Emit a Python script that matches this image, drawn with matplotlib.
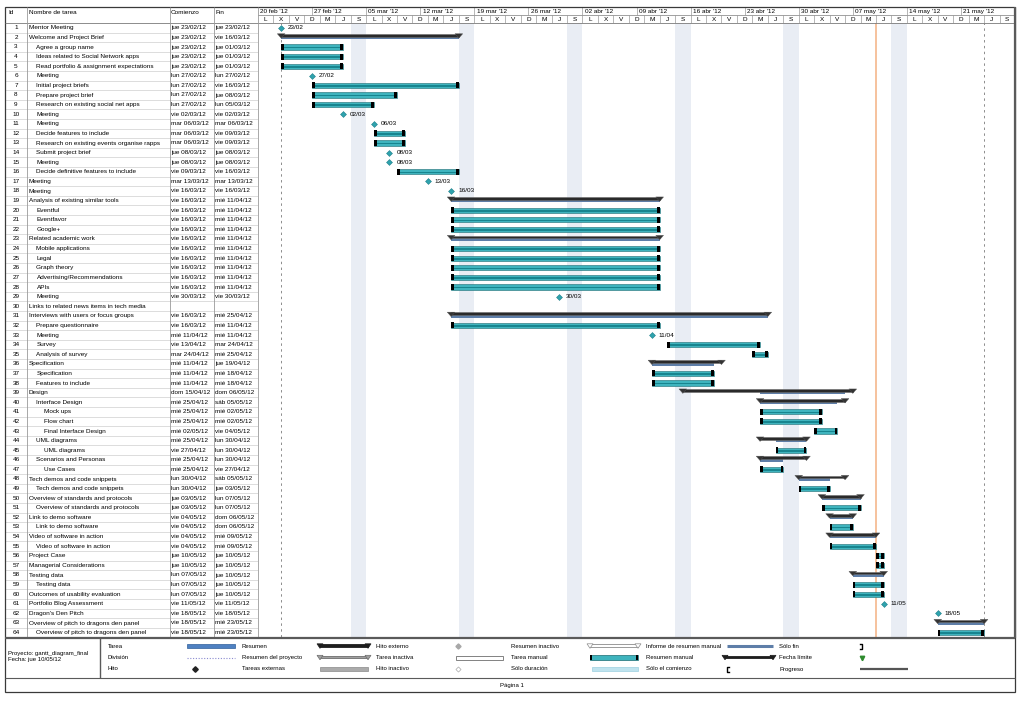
import matplotlib
matplotlib.use("Agg")
import matplotlib.pyplot as plt
import matplotlib.dates as mdates
from matplotlib.patches import Rectangle, Polygon
from datetime import datetime, timedelta

plt.rcParams['font.family'] = ['Liberation Sans', 'DejaVu Sans']

# ---------------- data ----------------
names = [
    "Mentor Meeting", "Welcome and Project Brief", "Agree a group name",
    "Ideas related to Social Network apps", "Read portfolio & assignment expectations",
    "Meeting", "Initial project briefs", "Prepare project brief",
    "Research on existing social net apps", "Meeting", "Meeting",
    "Decide features to include", "Research on existing events organise rapps",
    "Submit project brief", "Meeting", "Decide definitive features to include",
    "Meeting", "Meeting", "Analysis of existing similar tools", "Eventful",
    "Eventfavor", "Google+", "Related academic work", "Mobile applications",
    "Legal", "Graph theory", "Advertising/Recommendations", "APIs", "Meeting",
    "Links to related news items in tech media", "Interviews with users or focus groups",
    "Prepare questionnaire", "Meeting", "Survey", "Analysis of survey",
    "Specification", "Specification", "Features to include", "Design",
    "Interface Design", "Mock ups", "Flow chart", "Final Interface Design",
    "UML diagrams", "UML diagrams", "Scenarios and Personas", "Use Cases",
    "Tech demos and code snippets", "Tech demos and code snippets",
    "Overview of standards and protocols", "Overview of standards and protocols",
    "Link to demo software", "Link to demo software", "Video of software in action",
    "Video of software in action", "Project Case", "Managerial Considerations",
    "Testing data", "Testing data", "Outcomes of usability evaluation",
    "Portfolio Blog Assessment", "Dragon's Den Pitch",
    "Overview of pitch to dragons den panel", "Overview of pitch to dragons den panel",
]
levels = [0, 0, 1, 1, 1, 1, 1, 1, 1, 1, 1, 1, 1, 1, 1, 1, 0, 0, 0, 1, 1, 1, 0, 1,
          1, 1, 1, 1, 1, 0, 0, 1, 1, 1, 1, 0, 1, 1, 0, 1, 2, 2, 2, 1, 2, 1, 2, 0,
          1, 0, 1, 0, 1, 0, 1, 0, 0, 0, 1, 0, 0, 0, 0, 1]
kinds = ["m", "s", "t", "t", "t", "m", "t", "t", "t", "m", "m", "t", "t", "m", "m", "t",
         "m", "m", "s", "t", "t", "t", "s", "t", "t", "t", "t", "t", "m", "", "s", "t",
         "m", "t", "t", "s", "t", "t", "s", "s", "t", "t", "t", "s", "t", "s", "t", "s",
         "t", "s", "t", "s", "t", "s", "t", "t", "t", "s", "t", "t", "m", "m", "s", "t"]
starts = [
    "jue 23/02/12", "jue 23/02/12", "jue 23/02/12", "jue 23/02/12", "jue 23/02/12",
    "lun 27/02/12", "lun 27/02/12", "lun 27/02/12", "lun 27/02/12", "vie 02/03/12",
    "mar 06/03/12", "mar 06/03/12", "mar 06/03/12", "jue 08/03/12", "jue 08/03/12",
    "vie 09/03/12", "mar 13/03/12", "vie 16/03/12", "vie 16/03/12", "vie 16/03/12",
    "vie 16/03/12", "vie 16/03/12", "vie 16/03/12", "vie 16/03/12", "vie 16/03/12",
    "vie 16/03/12", "vie 16/03/12", "vie 16/03/12", "vie 30/03/12", "",
    "vie 16/03/12", "vie 16/03/12", "mié 11/04/12", "vie 13/04/12", "mar 24/04/12",
    "mié 11/04/12", "mié 11/04/12", "mié 11/04/12", "dom 15/04/12", "mié 25/04/12",
    "mié 25/04/12", "mié 25/04/12", "mié 02/05/12", "mié 25/04/12", "vie 27/04/12",
    "mié 25/04/12", "mié 25/04/12", "lun 30/04/12", "lun 30/04/12", "jue 03/05/12",
    "jue 03/05/12", "vie 04/05/12", "vie 04/05/12", "vie 04/05/12", "vie 04/05/12",
    "jue 10/05/12", "jue 10/05/12", "lun 07/05/12", "lun 07/05/12", "lun 07/05/12",
    "vie 11/05/12", "vie 18/05/12", "vie 18/05/12", "vie 18/05/12",
]
ends = [
    "jue 23/02/12", "vie 16/03/12", "jue 01/03/12", "jue 01/03/12", "jue 01/03/12",
    "lun 27/02/12", "vie 16/03/12", "jue 08/03/12", "lun 05/03/12", "vie 02/03/12",
    "mar 06/03/12", "vie 09/03/12", "vie 09/03/12", "jue 08/03/12", "jue 08/03/12",
    "vie 16/03/12", "mar 13/03/12", "vie 16/03/12", "mié 11/04/12", "mié 11/04/12",
    "mié 11/04/12", "mié 11/04/12", "mié 11/04/12", "mié 11/04/12", "mié 11/04/12",
    "mié 11/04/12", "mié 11/04/12", "mié 11/04/12", "vie 30/03/12", "",
    "mié 25/04/12", "mié 11/04/12", "mié 11/04/12", "mar 24/04/12", "mié 25/04/12",
    "jue 19/04/12", "mié 18/04/12", "mié 18/04/12", "dom 06/05/12", "sáb 05/05/12",
    "mié 02/05/12", "mié 02/05/12", "vie 04/05/12", "lun 30/04/12", "lun 30/04/12",
    "lun 30/04/12", "vie 27/04/12", "sáb 05/05/12", "jue 03/05/12", "lun 07/05/12",
    "lun 07/05/12", "dom 06/05/12", "dom 06/05/12", "mié 09/05/12", "mié 09/05/12",
    "jue 10/05/12", "jue 10/05/12", "jue 10/05/12", "jue 10/05/12", "jue 10/05/12",
    "vie 11/05/12", "vie 18/05/12", "mié 23/05/12", "mié 23/05/12",
]
week_labels = ["20 feb '12", "27 feb '12", "05 mar '12", "12 mar '12", "19 mar '12",
               "26 mar '12", "02 abr '12", "09 abr '12", "16 abr '12", "23 abr '12",
               "30 abr '12", "07 may '12", "14 may '12", "21 may '12"]
day_letters = ["L", "M", "X", "J", "V", "S", "D"]   # lunes..domingo
col_titles = ["Id", "Nombre de tarea", "Comienzo", "Fin"]
project_text = "Proyecto: gantt_diagram_final"
status_text = "Fecha: jue 10/05/12"
page_text = "Página 1"
legend_rows = [
    ["Tarea", "Resumen", "Hito externo", "Resumen inactivo", "Informe de resumen manual", "Sólo fin"],
    ["División", "Resumen del proyecto", "Tarea inactiva", "Tarea manual", "Resumen manual", "Fecha límite"],
    ["Hito", "Tareas externas", "Hito inactivo", "Sólo duración", "Sólo el comienzo", "Progreso"],
]

# ---------------- helpers ----------------
W, H = 1024, 701
fig = plt.figure(figsize=(W / 100, H / 100), dpi=100)
fig.patch.set_facecolor("white")
FS = 4.6
LFS = 4.3
TEAL = "#3FB4BE"
TEAL_D = "#17858F"
ROLL = "#5E7EA8"


def px_axes(x0, y0, x1, y1, z=1):
    return fig.add_axes([x0 / W, 1 - y1 / H, (x1 - x0) / W, (y1 - y0) / H], zorder=z)


def parse(s):
    return datetime.strptime(s.split()[1], "%d/%m/%y")


N = len(names)
X0, X1 = 258, 1015
HY0, HY1 = 7, 23
RY0 = 23
RH = 9.6
RY1 = RY0 + N * RH
t0 = datetime(2012, 2, 20)
t1 = t0 + timedelta(days=7 * len(week_labels))
D = mdates.date2num

# ---------------- Gantt area ----------------
ax = px_axes(X0, RY0, X1, RY1, z=2)
ax.set_xlim(D(t0), D(t1))
ax.set_ylim(N + 0.5, 0.5)
ax.axis("off")

nbins = (t1 - t0).days // 2
for k in range(nbins):
    d = t0 + timedelta(days=2 * k)
    if d.weekday() == 5 and d + timedelta(days=2) < t1:
        ax.axvspan(D(d), D(d + timedelta(days=2)), color="#E9EDF4", zorder=0, lw=0)

valid_s = [parse(s) for s in starts if s]
valid_e = [parse(e) for e in ends if e]
proj_start = min(valid_s)
proj_end = max(valid_e) + timedelta(days=1)
status = parse(status_text.split(": ")[1])
for dd in (proj_start, proj_end):
    ax.axvline(D(dd), color="#8C8C8C", lw=0.7, ls=(0, (2.5, 3.5)), zorder=1)
ax.axvline(D(status), color="#F4B183", lw=1.1, zorder=1)

for i in range(N):
    y = i + 1
    k = kinds[i]
    if not k:
        continue
    xs = D(parse(starts[i]))
    xe = D(parse(ends[i])) + 1
    if k == "t":
        ax.add_patch(Rectangle((xs, y - 0.27), xe - xs, 0.54, fc=TEAL, ec="#1B6B72", lw=0.4, zorder=3))
        ax.add_patch(Rectangle((xs, y - 0.02), xe - xs, 0.16, fc=TEAL_D, ec="none", zorder=3))
        ax.add_patch(Rectangle((xs, y - 0.32), 0.35, 0.64, fc="black", ec="none", zorder=4))
        ax.add_patch(Rectangle((xe - 0.35, y - 0.32), 0.35, 0.64, fc="black", ec="none", zorder=4))
    elif k == "s":
        # rollup of children
        j = i + 1
        cs, ce = [], []
        while j < N and levels[j] > levels[i]:
            if starts[j]:
                cs.append(D(parse(starts[j])))
                ce.append(D(parse(ends[j])) + 1)
            j += 1
        if cs:
            ax.add_patch(Rectangle((min(cs), y - 0.08), max(ce) - min(cs), 0.26, fc=ROLL, ec="none", zorder=3))
        ax.add_patch(Rectangle((xs, y - 0.36), xe - xs, 0.3, fc="#2A2A2A", ec="#6E6E6E", lw=0.4, zorder=4))
        for xx in (xs, xe):
            ax.add_patch(Polygon([(xx - 0.5, y - 0.38), (xx + 0.5, y - 0.38), (xx, y + 0.08)],
                                 closed=True, fc="#333333", ec="#555555", lw=0.3, zorder=5))
    elif k == "m":
        ax.plot([xs], [y], marker="D", ms=3.0, mfc="#2FA3AE", mec="#1F7F88", mew=0.4, zorder=5)
        ax.text(xs + 0.9, y, parse(starts[i]).strftime("%d/%m"), fontsize=FS, va="center", ha="left", zorder=5)

# ---------------- timescale header ----------------
axh = px_axes(X0, HY0, X1, HY1, z=2)
axh.set_xlim(D(t0), D(t1))
axh.set_ylim(1, 0)
axh.axis("off")
for w, lab in enumerate(week_labels):
    d = t0 + timedelta(days=7 * w)
    axh.text(D(d) + 0.3, 0.28, lab, fontsize=FS, va="center", ha="left")
    if w > 0:
        axh.plot([D(d), D(d)], [0, 0.5], color="#9A9A9A", lw=0.5)
for k in range(nbins):
    d = t0 + timedelta(days=2 * k)
    axh.text(D(d) + 1, 0.76, day_letters[d.weekday()], fontsize=FS, va="center", ha="center")
    if k > 0:
        axh.plot([D(d), D(d)], [0.5, 1], color="#9A9A9A", lw=0.5)
axh.plot([D(t0), D(t1)], [0.5, 0.5], color="#9A9A9A", lw=0.5)

# ---------------- table ----------------
axt = px_axes(5, RY0, X0, RY1, z=2)
axt.set_xlim(5, X0)
axt.set_ylim(N + 0.5, 0.5)
axt.axis("off")
for i in range(N):
    y = i + 1
    axt.text(16, y, str(i + 1), fontsize=FS, ha="center", va="center")
    axt.text(29 + 7.5 * levels[i], y, names[i], fontsize=FS, ha="left", va="center")
    axt.text(171, y, starts[i], fontsize=FS, ha="left", va="center")
    axt.text(215.5, y, ends[i], fontsize=FS, ha="left", va="center")
    axt.plot([5, X0], [y + 0.5, y + 0.5], color="#CFCFCF", lw=0.5)

# ---------------- overlay (frame, header titles, legend) ----------------
ab = px_axes(0, 0, W, H, z=6)
ab.set_xlim(0, W)
ab.set_ylim(H, 0)
ab.axis("off")


def hline(y, x0, x1, c="#7A7A7A", lw=0.6):
    ab.plot([x0, x1], [y, y], color=c, lw=lw, solid_capstyle="butt")


def vline(x, y0, y1, c="#7A7A7A", lw=0.6):
    ab.plot([x, x], [y0, y1], color=c, lw=lw, solid_capstyle="butt")


for x, t in zip([8, 29, 171, 215.5], col_titles):
    ab.text(x, 12, t, fontsize=FS, ha="left", va="center")
hline(HY1, 5, X1)
hline(15, X0, X1, c="#9A9A9A", lw=0.5)
for x in (27, 170, 214, X0):
    vline(x, HY0, RY1 + 0.5, c="#9A9A9A", lw=0.6)
hline(RY1 + 0.8, 5, X1, c="#5A5A5A", lw=1.6)
vline(X1, HY0, RY1 + 0.8, c="#5A5A5A", lw=1.6)
ab.add_patch(Rectangle((5, HY0), X1 - 5, 692 - HY0, fill=False, ec="#3A3A3A", lw=0.9))
vline(100, RY1 + 0.8, 678, c="#5A5A5A", lw=1.0)
hline(678, 5, X1, c="#5A5A5A", lw=0.8)

ab.text(8, 653, project_text, fontsize=LFS, ha="left", va="center")
ab.text(8, 660, status_text, fontsize=LFS, ha="left", va="center")
ab.text(512, 685, page_text, fontsize=LFS, ha="center", va="center")

label_x = [108, 242, 376, 511, 646, 779]
row_y = [646, 657.5, 669]
for r, row in enumerate(legend_rows):
    for c, lab in enumerate(row):
        ab.text(label_x[c], row_y[r], lab, fontsize=LFS, ha="left", va="center")


def leg_summary(x0, x1, y, fc, ec, hollow=False):
    ab.add_patch(Rectangle((x0, y - 1.8), x1 - x0, 2.4, fc=("white" if hollow else fc), ec=ec, lw=0.6))
    for xx in (x0, x1):
        ab.add_patch(Polygon([(xx - 3, y - 2.2), (xx + 3, y - 2.2), (xx, y + 2.3)], closed=True,
                             fc=("white" if hollow else fc), ec=ec, lw=0.5))


# column 1 symbols
ab.add_patch(Rectangle((187, row_y[0] - 2.2), 48, 4.4, fc="#4F81C2", ec="#2F5F9A", lw=0.5))
ab.plot([187, 235], [row_y[1], row_y[1]], color="#8A8AD0", lw=0.8, ls=(0, (1, 1.5)))
ab.plot([195], [row_y[2]], marker="D", ms=2.8, color="#222222")
# column 2
leg_summary(320, 368, row_y[0], "#1E1E1E", "#1E1E1E")
leg_summary(320, 368, row_y[1], "#A0A0A0", "#6E6E6E")
ab.add_patch(Rectangle((320, row_y[2] - 2.2), 48, 4.4, fc="#ABABAB", ec="#8A8A8A", lw=0.5))
# column 3
ab.plot([458], [row_y[0]], marker="D", ms=2.6, color="#A8A8A8")
ab.add_patch(Rectangle((456, row_y[1] - 2.0), 47, 4.0, fc="white", ec="#6E6E6E", lw=0.6))
ab.plot([458], [row_y[2]], marker="D", ms=2.6, mfc="white", mec="#A8A8A8", mew=0.5)
# column 4
leg_summary(590, 638, row_y[0], "white", "#8A8A8A", hollow=True)
ab.add_patch(Rectangle((590, row_y[1] - 2.3), 48, 4.6, fc=TEAL, ec="#1B6B72", lw=0.5))
ab.add_patch(Rectangle((590, row_y[1] - 2.8), 1.8, 5.6, fc="black"))
ab.add_patch(Rectangle((636.2, row_y[1] - 2.8), 1.8, 5.6, fc="black"))
ab.add_patch(Rectangle((592, row_y[2] - 2.0), 46, 4.0, fc="#BFE3EE", ec="#9CCFE0", lw=0.5))
# column 5
ab.plot([727, 773], [row_y[0], row_y[0]], color=ROLL, lw=2.2, solid_capstyle="butt")
leg_summary(725, 773, row_y[1], "#1E1E1E", "#1E1E1E")
ab.plot([729, 727, 727, 729], [row_y[2] - 2.5, row_y[2] - 2.5, row_y[2] + 2.5, row_y[2] + 2.5], color="black", lw=1.0)
# column 6
ab.plot([860, 862, 862, 860], [row_y[0] - 2.5, row_y[0] - 2.5, row_y[0] + 2.5, row_y[0] + 2.5], color="black", lw=1.0)
ab.plot([862], [row_y[1]], marker="v", ms=3.2, color="#2E8B2E")
ab.plot([860, 908], [row_y[2], row_y[2]], color="#555555", lw=1.6, solid_capstyle="butt")

fig.savefig("out.png", dpi=100, facecolor="white")
